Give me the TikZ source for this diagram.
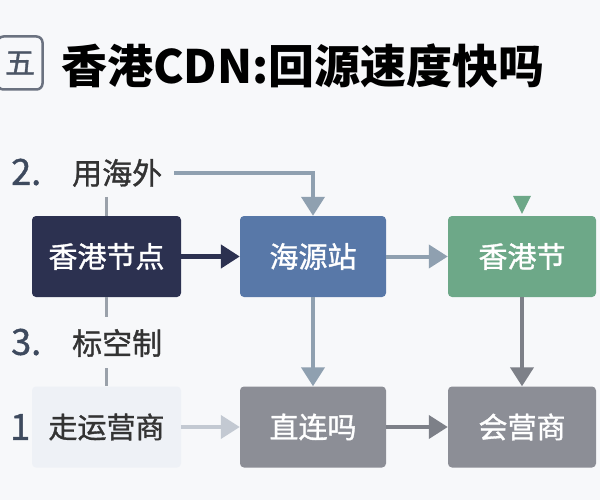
\documentclass[tikz,border=0pt]{standalone}
\usepackage{fontspec}
\setmainfont{Noto Sans CJK SC}
\newfontfamily\medfam[BoldFont={Noto Sans CJK SC}, BoldFeatures={FakeBold=1.2}]{Noto Sans CJK SC}
\newcommand{\medfont}{\medfam\bfseries}
\usetikzlibrary{arrows.meta}
\definecolor{bg}{HTML}{F7F8FA}
\definecolor{navy}{HTML}{2C3150}
\definecolor{nblue}{HTML}{5878A8}
\definecolor{grn}{HTML}{6DA888}
\definecolor{gry}{HTML}{8C8E96}
\definecolor{lite}{HTML}{EEF1F6}
\definecolor{gbl}{HTML}{8FA0B0}
\definecolor{darkg}{HTML}{7D8088}
\definecolor{lgl}{HTML}{C3C9D2}
\definecolor{vl}{HTML}{9AA1AA}
\definecolor{num}{HTML}{3E4A5E}
\definecolor{txt}{HTML}{333333}
\definecolor{wuline}{HTML}{6B7280}
\definecolor{wutext}{HTML}{4B5565}
\begin{document}
\begin{tikzpicture}[x=1pt,y=-1pt,
  box/.style={rounded corners=4pt, minimum height=81pt, inner sep=0pt, font=\fontsize{29}{30}\medfont, text=white},
  conn/.style={line width=4pt, -{Triangle[length=19pt,width=23pt]}},
  vline/.style={line width=3.5pt, draw=vl},
  lab/.style={font=\fontsize{30}{32}\medfont, text=txt, inner sep=0pt},
  numl/.style={font=\fontsize{36}{38}\medfont, text=num, inner sep=0pt}
]
\fill[bg] (0,0) rectangle (600,500);
\useasboundingbox (0,0) rectangle (600,500);
% title
\node[draw=wuline, line width=2.5pt, rounded corners=6pt, minimum width=45pt, minimum height=53pt, inner sep=0pt, text=wutext, font=\fontsize{30}{32}\medfont] (wu) at (20,63) {五};
\node[anchor=west, inner sep=0pt, font=\fontsize{46}{48}\selectfont\bfseries, text=black] (title) at (61,66) {香港CDN:回源速度快吗};
% nodes
\node[box, fill=navy, minimum width=149pt] (n1) at (106.5,256.5) {香港节点};
\node[box, fill=nblue, minimum width=146pt] (n2) at (313,256.5) {海源站};
\node[box, fill=grn, minimum width=148pt] (n3) at (522,256.5) {香港节};
\node[box, fill=lite, text=txt, minimum width=149pt] (n4) at (106.5,427) {走运营商};
\node[box, fill=gry, minimum width=146pt] (n5) at (313,427) {直连吗};
\node[box, fill=gry, minimum width=148pt] (n6) at (522,427) {会营商};
% labels
\node[numl, anchor=west] (l2n) at (11,172) {2.};
\node[lab, anchor=west] (l2) at (72,173) {用海外};
\node[numl, anchor=west] (l3n) at (11,342) {3.};
\node[lab, anchor=west] (l3) at (72,343) {标空制};
\node[numl, anchor=west] (l1n) at (10,427) {1};
% connectors
\draw[conn, draw=gbl] ([xshift=12pt]l2.east) -| (n2.north);
\draw[conn, draw=navy, line width=4.5pt] (n1.east) -- (n2.west);
\draw[conn, draw=gbl] (n2.east) -- (n3.west);
\draw[conn, draw=gbl] (n2.south) -- (n5.north);
\draw[conn, draw=darkg] (n3.south) -- (n6.north);
\draw[conn, draw=lgl] (n4.east) -- (n5.west);
\draw[conn, draw=darkg] (n5.east) -- (n6.west);
\draw[vline] ([yshift=19pt]n1.north) -- (n1.north);
\draw[vline] (n1.south) -- ++(0,20);
\draw[vline] ([yshift=18pt]n4.north) -- (n4.north);
% green arrowhead
\fill[grn] ([shift={(-9pt,20pt)}]n3.north) -- ([shift={(9pt,20pt)}]n3.north) -- ([yshift=2pt]n3.north) -- cycle;
\end{tikzpicture}
\end{document}
